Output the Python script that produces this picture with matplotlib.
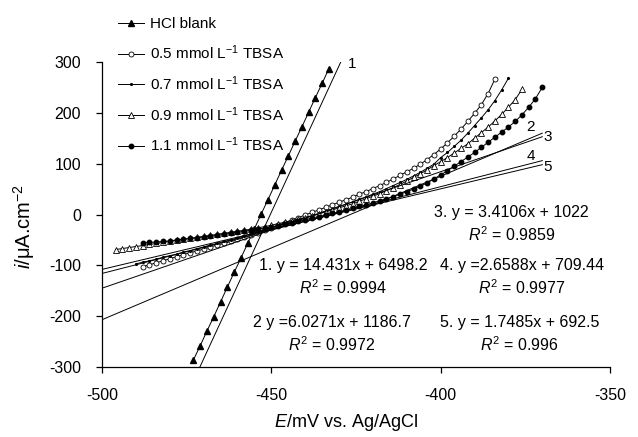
import numpy as np
import matplotlib.pyplot as plt

plt.rcParams['font.family'] = ['Liberation Sans', 'DejaVu Sans']
plt.rcParams['mathtext.fontset'] = 'custom'
plt.rcParams['mathtext.rm'] = 'Liberation Sans'
plt.rcParams['mathtext.it'] = 'Liberation Sans:italic'
plt.rcParams['axes.unicode_minus'] = False

# --- data (E in mV, i in uA/cm2) ---
e_blank = np.arange(-473, -431, 2)
i_blank = [-286, -258, -229, -201, -172, -143, -114, -86, -57, -28, 1,
           29, 58, 87, 115, 144, 172, 201, 230, 258, 287]

e_05 = np.arange(-488, -383, 2)
i_05 = [-103, -99, -95, -91, -87, -83, -79, -75, -72, -68, -64, -60, -57,
        -53, -49, -45, -41, -36, -31, -26, -21, -16, -11, -6, -1, 4, 9, 14,
        19, 24, 29, 34, 40, 45, 51, 57, 63, 70, 77, 84, 91, 99, 108, 118,
        129, 141, 154, 168, 183, 199, 216, 238, 266]

e_07 = np.arange(-490, -379, 2)
i_07 = [-97, -94, -91, -88, -84, -81, -78, -74, -71, -67, -64, -60, -57,
        -53, -50, -46, -42, -38, -34, -30, -26, -22, -18, -14, -10, -6, -2,
        2, 7, 11, 16, 20, 25, 30, 35, 40, 45, 51, 57, 63, 69, 76, 83, 91,
        99, 112, 122, 134, 146, 160, 175, 190, 206, 224, 245, 268]

e_09 = np.arange(-496, -375, 2)
i_09 = [-69, -67, -65, -63, -61, -59, -57, -55, -53, -51, -49, -47, -45,
        -43, -41, -39, -37, -35, -33, -31, -29, -26, -24, -21, -18, -15,
        -12, -9, -6, -3, 1, 5, 9, 13, 17, 21, 26, 31, 36, 41, 47, 53, 59,
        66, 73, 80, 88, 96, 104, 112, 121, 130, 139, 150, 161, 172, 184,
        197, 211, 226, 246]

e_11 = np.arange(-488, -369, 2)
i_11 = [-56, -55, -54, -53, -52, -50, -49, -47, -46, -44, -43, -41, -39,
        -37, -35, -33, -31, -29, -27, -24, -22, -19, -16, -13, -10, -7, -4,
        -1, 2, 5, 9, 12, 16, 19, 23, 27, 31, 35, 40, 45, 50, 56, 62, 70,
        78, 86, 95, 104, 113, 122, 132, 142, 152, 162, 172, 183, 196, 211,
        228, 250]

# linear fits: (E start, i start) -> (E end, i end)
fit_e = [[-471.1, -429.5], [-500, -370], [-500, -370], [-500, -370], [-500, -370]]
fit_i = [[-300, 300], [-207, 160], [-145, 153], [-116, 106], [-108, 98]]
fit_tags = ['1', '2', '3', '4', '5']
fit_tag_pos = [(-426.0, 297), (-373.4, 173), (-368.3, 152), (-373.4, 116), (-368.3, 94)]

eqs = ['3. y = 3.4106x + 1022', '1. y = 14.431x + 6498.2', '4. y =2.6588x + 709.44',
       '2 y =6.0271x + 1186.7', '5. y = 1.7485x + 692.5']
r2 = ['0.9859', '0.9994', '0.9977', '0.9972', '0.996']
eq_pos = [(-379.0, 4), (-428.7, -100), (-376.0, -100), (-432.2, -213), (-376.6, -213)]

fig = plt.figure(figsize=(6.38, 4.37), dpi=100)
ax = fig.add_axes([0.1599, 0.1602, 0.7962, 0.6979])

lw = 0.7
ax.plot(e_blank, i_blank, '-', color='k', lw=lw, marker='^', ms=4, mfc='k',
        label='HCl blank')
ax.plot(e_05, i_05, '-', color='k', lw=lw, marker='o', ms=3.6, mfc='white',
        mew=0.6, label='0.5 mmol L$^{-1}$ TBSA')
ax.plot(e_07, i_07, '-', color='k', lw=lw, marker='.', ms=2.5, mfc='k',
        label='0.7 mmol L$^{-1}$ TBSA')
ax.plot(e_09, i_09, '-', color='k', lw=lw, marker='^', ms=4, mfc='white',
        mew=0.6, label='0.9 mmol L$^{-1}$ TBSA')
ax.plot(e_11, i_11, '-', color='k', lw=lw, marker='o', ms=3.2, mfc='k',
        label='1.1 mmol L$^{-1}$ TBSA')

for fe, fi in zip(fit_e, fit_i):
    ax.plot(fe, fi, '-', color='k', lw=0.7)
for tag, (x, y) in zip(fit_tags, fit_tag_pos):
    ax.text(x, y, tag, fontsize=11, ha='center', va='center')

for eq, r, (x, y) in zip(eqs, r2, eq_pos):
    ax.text(x, y, eq, fontsize=11.5, ha='center', va='center')
    ax.text(x, y - 44, '$R^2$ = ' + r, fontsize=11.5, ha='center', va='center')

ax.set_xlim(-500, -350)
ax.set_ylim(-300, 300)
ax.set_xticks([-500, -450, -400, -350])
ax.set_yticks([-300, -200, -100, 0, 100, 200, 300])
ax.spines['top'].set_visible(False)
ax.spines['right'].set_visible(False)
ax.spines['left'].set_linewidth(0.9)
ax.spines['bottom'].set_linewidth(0.9)
ax.tick_params(direction='out', length=4, width=0.9, labelsize=11.5)
ax.tick_params(axis='y', pad=11)
ax.tick_params(axis='x', pad=11)
ax.set_xlabel('$E$/mV vs. Ag/AgCl', fontsize=13)
ax.xaxis.set_label_coords(0.48, -0.148)
ax.set_ylabel('$i$/μA.cm$^{-2}$', fontsize=14.5)
ax.yaxis.set_label_coords(-0.128, 0.46)

ax.legend(loc='upper left', bbox_to_anchor=(0.175, 0.975),
          bbox_transform=fig.transFigure, frameon=False, fontsize=11,
          handlelength=1.7, handletextpad=0.4, labelspacing=0.8,
          borderaxespad=0)

fig.savefig('out.png', dpi=100)
